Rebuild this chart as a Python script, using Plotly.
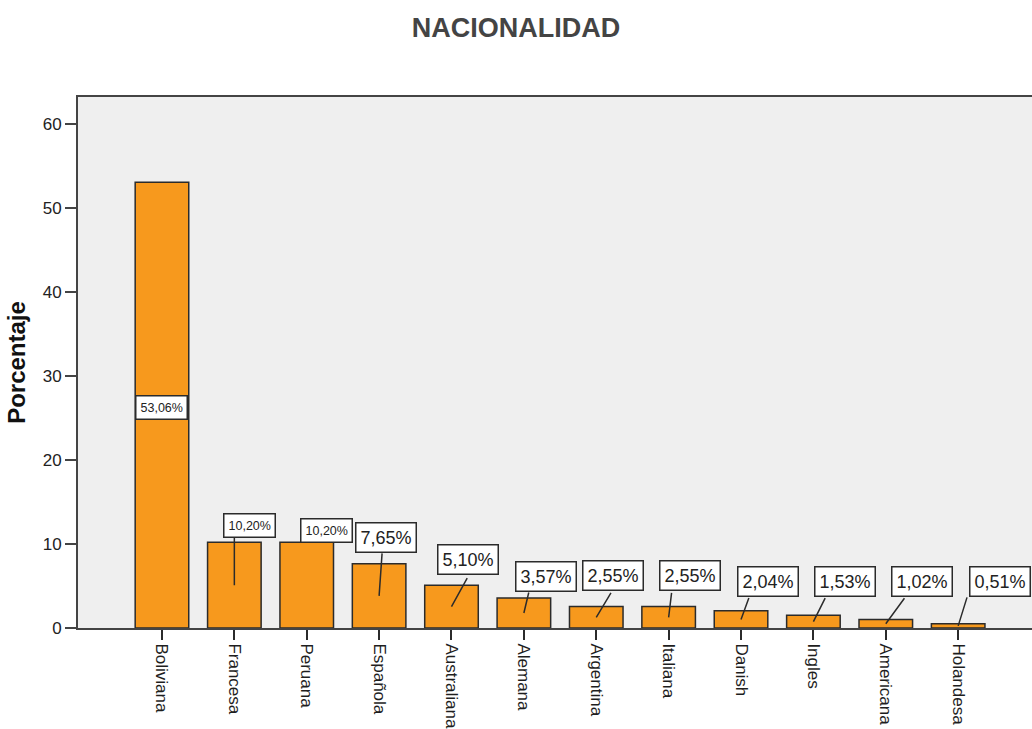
import plotly.graph_objects as go

# Nationality distribution (% of respondents)
categorias = ["Boliviana", "Francesa", "Peruana", "Española", "Australiana", "Alemana",
              "Argentina", "Italiana", "Danish", "Ingles", "Americana", "Holandesa"]
porcentajes = [53.06, 10.20, 10.20, 7.65, 5.10, 3.57, 2.55, 2.55, 2.04, 1.53, 1.02, 0.51]

# Label boxes: anchor fraction of the bar height and pixel shift of the box centre
ancla = [0.5] + [1.0] * 11
caja_dx = [0, 15.6, 19.7, 6.8, 16.4, 22, 16.6, 21.7, 26.8, 31.4, 36.5, 41.6]
caja_dy = [-2, 17.3, 12.3, 26.2, 25.2, 22, 30.6, 30.6, 29.4, 33.6, 37.9, 42.2]
tam_texto = [12.5, 12.5, 12.5] + [18] * 9

# Leader lines: tail offset (px) from the bar midpoint to the lower edge of its box
guia_dx = [None, 0, None, 3, 16, 5, 15, 3, 8, 12, 19, 9]
guia_dy = [None, -48, None, -43, -29, -21, -25, -25, -22, -24, -26, -29]

FUENTE = "Liberation Sans, Arial, sans-serif"
OSCURO = "#2b2b2b"

fig = go.Figure(
    go.Bar(
        x=categorias,
        y=porcentajes,
        width=0.74,
        marker=dict(color="#f7991d", line=dict(color=OSCURO, width=1.5)),
        hoverinfo="x+y",
    )
)

anotaciones = []
# leader lines first so the boxes sit on top of them
for i, (cat, v) in enumerate(zip(categorias, porcentajes)):
    if guia_dx[i] is None:
        continue
    anotaciones.append(dict(
        x=cat, y=v / 2, xref="x", yref="y", text="",
        showarrow=True, arrowhead=0, arrowwidth=1.5, arrowcolor=OSCURO,
        ax=guia_dx[i], ay=guia_dy[i], axref="pixel", ayref="pixel",
        standoff=0, startstandoff=0, borderpad=0,
    ))
for i, (cat, v) in enumerate(zip(categorias, porcentajes)):
    etiqueta = f"{v:.2f}".replace(".", ",") + "%"
    anotaciones.append(dict(
        x=cat, y=v * ancla[i], xref="x", yref="y", text=etiqueta,
        showarrow=False, xshift=caja_dx[i], yshift=caja_dy[i],
        xanchor="center", yanchor="middle",
        font=dict(family=FUENTE, size=tam_texto[i], color="#222222"),
        bgcolor="white", bordercolor=OSCURO, borderwidth=1.5, borderpad=4,
    ))

fig.update_layout(
    width=1032, height=729,
    margin=dict(l=78, r=0, t=97, b=101, autoexpand=False),
    paper_bgcolor="white",
    plot_bgcolor="#efefef",
    showlegend=False,
    title=dict(
        text="<b>NACIONALIDAD</b>", x=0.5, xanchor="center",
        y=1 - 28 / 729, yanchor="middle", yref="container",
        font=dict(family=FUENTE, size=27, color="#444444"),
    ),
    annotations=anotaciones,
    xaxis=dict(
        type="category", range=[-1.16, 12.02], automargin=False,
        showline=True, linecolor="#444444", linewidth=2, mirror=True,
        ticks="outside", ticklen=10, tickwidth=1.5, tickcolor=OSCURO,
        tickangle=90, showgrid=False, zeroline=False,
        tickfont=dict(family=FUENTE, size=17, color="#1e1e1e"),
    ),
    yaxis=dict(
        range=[0, 63.2], tickvals=[0, 10, 20, 30, 40, 50, 60], automargin=False,
        showline=True, linecolor="#444444", linewidth=2,
        ticks="outside", ticklen=11, tickwidth=2, tickcolor="#444444",
        showgrid=False, zeroline=False,
        tickfont=dict(family=FUENTE, size=17, color="#222222"),
        title=dict(text="<b>Porcentaje</b>", standoff=10,
                   font=dict(family=FUENTE, size=24, color="#111111")),
    ),
)

fig.write_html("out.html")
